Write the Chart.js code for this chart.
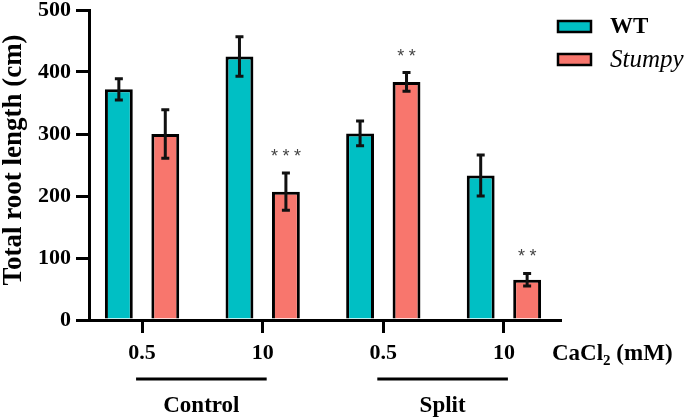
<!DOCTYPE html>
<html>
<head>
<meta charset="utf-8">
<script src="https://cdn.jsdelivr.net/npm/chart.js@4.4.1/dist/chart.umd.min.js"></script>
<style>
  html, body { margin: 0; padding: 0; background: #fff; }
  #wrap { width: 685px; height: 420px; position: relative; }
</style>
</head>
<body>
<div id="wrap"><canvas id="c" width="685" height="420"></canvas></div>
<script>
// ---- data ----
const categories = ['0.5', '10', '0.5', '10'];
const treatments = ['Control', 'Control', 'Split', 'Split'];
const seriesNames = ['WT', 'Stumpy'];
const wtValues = [372, 425, 301, 233];
const wtErrors = [17, 32, 20, 33];
const stumpyValues = [300, 207, 384, 65];
const stumpyErrors = [39, 30, 15, 10];
const stumpyStars = ['', '***', '**', '**'];
const yTicks = [0, 100, 200, 300, 400, 500];
const yTitle = 'Total root length (cm)';
const xUnit = ['CaCl', '2', ' (mM)'];

const FONT = "'Liberation Serif', 'Times New Roman', serif";
const TEAL = '#00BFC4';
const SALMON = '#F8766D';

const errorSets = [wtErrors, stumpyErrors];
const starSets = [null, stumpyStars];

const decorPlugin = {
  id: 'decor',
  afterDatasetsDraw(chart) {
    const ctx = chart.ctx;
    const ys = chart.scales.y;
    ctx.save();
    chart.data.datasets.forEach((ds, di) => {
      const meta = chart.getDatasetMeta(di);
      meta.data.forEach((bar, j) => {
        const v = ds.data[j].y, e = errorSets[di][j];
        const top = ys.getPixelForValue(v + e);
        const bot = ys.getPixelForValue(v - e);
        ctx.strokeStyle = '#111';
        ctx.lineWidth = 3;
        ctx.lineCap = 'butt';
        ctx.beginPath();
        ctx.moveTo(bar.x, top); ctx.lineTo(bar.x, bot);
        ctx.moveTo(bar.x - 4, top); ctx.lineTo(bar.x + 4, top);
        ctx.moveTo(bar.x - 4, bot); ctx.lineTo(bar.x + 4, bot);
        ctx.stroke();
        const stars = starSets[di] ? starSets[di][j] : '';
        if (stars) {
          ctx.fillStyle = '#444';
          ctx.font = "18px 'Liberation Sans', Arial, sans-serif";
          ctx.textAlign = 'center';
          ctx.textBaseline = 'middle';
          const n = stars.length, sp = 11.5;
          for (let k = 0; k < n; k++) {
            const sx = bar.x + (k - (n - 1) / 2) * sp;
            ctx.fillText('*', sx, top - 16);
          }
        }
      });
    });
    ctx.restore();
  },
  afterDraw(chart) {
    const ctx = chart.ctx;
    const xs = chart.scales.x;
    ctx.save();
    ctx.fillStyle = '#000';
    ctx.font = "bold 27px " + FONT;
    ctx.textAlign = 'center';
    ctx.textBaseline = 'middle';
    ctx.translate(14, 160);
    ctx.rotate(-Math.PI / 2);
    ctx.fillText(yTitle, 0, 0);
    ctx.restore();

    ctx.save();
    ctx.fillStyle = '#000';
    ctx.textBaseline = 'alphabetic';
    ctx.textAlign = 'left';
    let x = 552;
    const base = 360;
    ctx.font = "bold 23px " + FONT;
    ctx.fillText(xUnit[0], x, base); x += ctx.measureText(xUnit[0]).width;
    ctx.font = "bold 15px " + FONT;
    ctx.fillText(xUnit[1], x, base + 5); x += ctx.measureText(xUnit[1]).width;
    ctx.font = "bold 23px " + FONT;
    ctx.fillText(xUnit[2], x, base);

    const groups = [];
    treatments.forEach((t, i) => {
      const g = groups.find(gg => gg.label === t);
      if (g) g.last = i; else groups.push({ label: t, first: i, last: i });
    });
    groups.forEach(g => {
      const x1 = xs.getPixelForValue(g.first + 1);
      const x2 = xs.getPixelForValue(g.last + 1);
      const cx = (x1 + x2) / 2;
      ctx.strokeStyle = '#000';
      ctx.lineWidth = 3;
      ctx.beginPath();
      ctx.moveTo(x1 - 6, 379); ctx.lineTo(x2 + 4, 379);
      ctx.stroke();
      ctx.font = "bold 23px " + FONT;
      ctx.textAlign = 'center';
      ctx.textBaseline = 'middle';
      ctx.fillText(g.label, cx - 1, 406);
    });

    const colors = [TEAL, SALMON];
    const legY = [26.5, 59.5];
    seriesNames.forEach((name, i) => {
      ctx.fillStyle = colors[i];
      ctx.fillRect(558, legY[i] - 5.5, 33, 11);
      ctx.strokeStyle = '#000';
      ctx.lineWidth = 2.5;
      ctx.strokeRect(558, legY[i] - 5.5, 33, 11);
      ctx.fillStyle = '#000';
      ctx.font = (i === 0 ? "bold 23px " : "italic 25px ") + FONT;
      ctx.textAlign = 'left';
      ctx.textBaseline = 'middle';
      ctx.fillText(name, 610, legY[i] + 1);
    });
    ctx.restore();
  }
};

new Chart(document.getElementById('c'), {
  type: 'bar',
  data: {
    datasets: [
      {
        label: seriesNames[0],
        data: wtValues.map((v, i) => ({ x: i + 1, y: v })),
        backgroundColor: TEAL,
        borderColor: '#000',
        borderWidth: 3,
        borderSkipped: 'bottom'
      },
      {
        label: seriesNames[1],
        data: stumpyValues.map((v, i) => ({ x: i + 1, y: v })),
        backgroundColor: SALMON,
        borderColor: '#000',
        borderWidth: 3,
        borderSkipped: 'bottom'
      }
    ]
  },
  options: {
    responsive: false,
    animation: false,
    events: [],
    categoryPercentage: 0.77,
    barPercentage: 0.6,
    layout: { padding: { left: 0, right: 125, top: 10, bottom: 0 } },
    plugins: { legend: { display: false }, tooltip: { enabled: false } },
    scales: {
      x: {
        type: 'linear',
        min: 0.56,
        max: 4.465,
        offset: false,
        grid: { offset: false, drawOnChartArea: false, drawTicks: true, tickLength: 13, color: '#000', lineWidth: 3 },
        border: { color: '#000', width: 3 },
        afterBuildTicks(scale) { scale.ticks = categories.map((c, i) => ({ value: i + 1 })); },
        ticks: {
          autoSkip: false,
          maxRotation: 0,
          padding: 7,
          color: '#000',
          font: { family: FONT, size: 22, weight: 'bold' },
          callback: (v) => categories[Math.round(v) - 1]
        },
        afterFit(scale) { scale.height = 100; scale.paddingLeft = 0; scale.paddingRight = 0; }
      },
      y: {
        min: 0,
        max: 500,
        afterBuildTicks(scale) { scale.ticks = yTicks.map(v => ({ value: v })); },
        grid: { drawOnChartArea: false, drawTicks: true, tickLength: 13, color: '#000', lineWidth: 3 },
        border: { color: '#000', width: 3 },
        ticks: {
          padding: 5,
          color: '#000',
          font: { family: FONT, size: 22, weight: 'bold' }
        },
        afterFit(scale) { scale.width = 89; scale.paddingTop = 0; scale.paddingBottom = 0; }
      }
    }
  },
  plugins: [decorPlugin]
});
</script>
</body>
</html>
